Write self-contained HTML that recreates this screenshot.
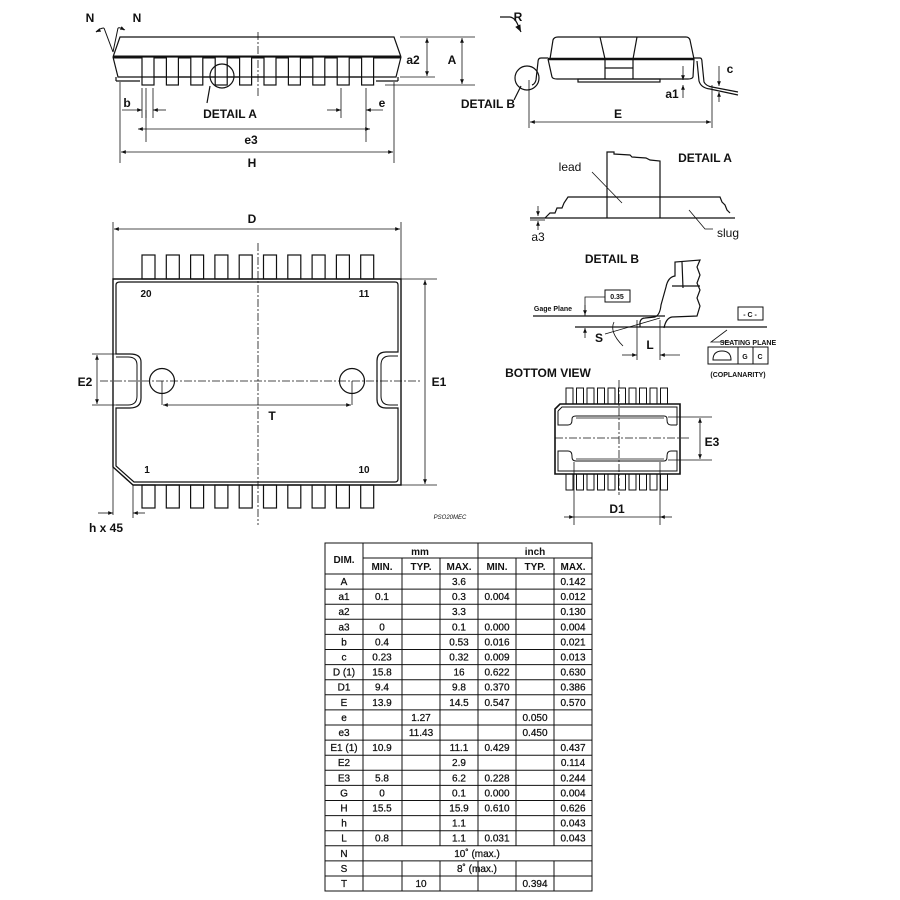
<!DOCTYPE html>
<html><head><meta charset="utf-8"><style>
html,body{margin:0;padding:0;background:#fff}
svg{display:block}
text{font-family:"Liberation Sans",Arial,sans-serif;fill:#111}
</style></head><body>
<svg width="900" height="900" viewBox="0 0 900 900" xmlns="http://www.w3.org/2000/svg">
<defs>
<marker id="a" viewBox="0 0 10 10" refX="10" refY="5" markerWidth="6" markerHeight="6" orient="auto-start-reverse"><path d="M0,1 L10,5 L0,9 z" fill="#111"/></marker>
</defs>
<g stroke="#111" fill="none" stroke-width="1.2">
<!-- ===== TOP-LEFT SIDE VIEW ===== -->
<path d="M113,57 L120,37 L394,37 L401,57"/>
<line x1="113" y1="57" x2="401" y2="57" stroke-width="3"/>
<path d="M113,57 L118,77 L396,77 L401,57"/>
<line x1="116" y1="77" x2="116" y2="81"/><line x1="116" y1="81" x2="140" y2="81"/>
<line x1="398" y1="77" x2="398" y2="81"/><line x1="376" y1="81" x2="398" y2="81"/>
<g fill="#fff">
<rect x="142" y="57" width="12" height="28"/><rect x="166.4" y="57" width="12" height="28"/><rect x="190.8" y="57" width="12" height="28"/><rect x="215.2" y="57" width="12" height="28"/><rect x="239.6" y="57" width="12" height="28"/><rect x="264" y="57" width="12" height="28"/><rect x="288.4" y="57" width="12" height="28"/><rect x="312.8" y="57" width="12" height="28"/><rect x="337.2" y="57" width="12" height="28"/><rect x="361.6" y="57" width="12" height="28"/>
</g>
<line x1="142" y1="77" x2="374" y2="77"/>
<circle cx="222" cy="76" r="12"/>
<line x1="210" y1="86" x2="207" y2="103"/>
<line x1="258" y1="32" x2="258" y2="98" stroke-dasharray="8,2,2,2" stroke-width="0.8"/>
<path d="M113,52 L104,28 M113,52 L118,28" stroke-width="1"/>
<path d="M96,32 Q100,28 104,28 M124,30 Q120,27 118,28" stroke-width="1"/>
<line x1="100" y1="30" x2="96" y2="32" marker-end="url(#a)" stroke-width="0.8"/>
<line x1="121" y1="28" x2="125" y2="30" marker-end="url(#a)" stroke-width="0.8"/>
<!-- a2, A -->
<line x1="400" y1="37" x2="475" y2="37" stroke-width="0.8"/>
<line x1="400" y1="77" x2="435" y2="77" stroke-width="0.8"/>
<line x1="385" y1="85" x2="475" y2="85" stroke-width="0.8"/>
<line x1="427" y1="38" x2="427" y2="76" marker-start="url(#a)" marker-end="url(#a)" stroke-width="0.8"/>
<line x1="462" y1="38" x2="462" y2="84" marker-start="url(#a)" marker-end="url(#a)" stroke-width="0.8"/>
<!-- b, e -->
<line x1="142" y1="88" x2="142" y2="118" stroke-width="0.8"/><line x1="146" y1="88" x2="146" y2="118" stroke-width="0.8"/><line x1="153" y1="88" x2="153" y2="118" stroke-width="0.8"/>
<line x1="122" y1="110" x2="142" y2="110" marker-end="url(#a)" stroke-width="0.8"/>
<line x1="166" y1="110" x2="153" y2="110" marker-end="url(#a)" stroke-width="0.8"/>
<line x1="341" y1="88" x2="341" y2="118" stroke-width="0.8"/><line x1="366" y1="88" x2="366" y2="142" stroke-width="0.8"/>
<line x1="327" y1="110" x2="341" y2="110" marker-end="url(#a)" stroke-width="0.8"/>
<line x1="383" y1="110" x2="366" y2="110" marker-end="url(#a)" stroke-width="0.8"/>
<line x1="146" y1="110" x2="146" y2="142" stroke-width="0.8"/>
<line x1="138" y1="129" x2="370" y2="129" marker-start="url(#a)" marker-end="url(#a)" stroke-width="0.8"/>
<line x1="120" y1="82" x2="120" y2="163" stroke-width="0.8"/><line x1="394" y1="82" x2="394" y2="163" stroke-width="0.8"/>
<line x1="121" y1="152" x2="393" y2="152" marker-start="url(#a)" marker-end="url(#a)" stroke-width="0.8"/>

<!-- ===== TOP-RIGHT SIDE VIEW ===== -->
<path d="M550,59 L553,40 Q554,37 558,37 L686,37 Q689,37 690,40 L694,59"/>
<line x1="548" y1="59" x2="694" y2="59" stroke-width="2.5"/>
<path d="M548,59 L552,77 Q553,79 557,79 L688,79 Q692,79 693,77 L694,59"/>
<path d="M600,37 L605,59 L605,79 M637,37 L633,59 L633,79 M605,68 L633,68"/>
<rect x="578" y="79" width="82" height="3"/>
<path d="M548,58 L541,58 Q538,58 538,62 L536,80 Q535,84 532,85"/>
<path d="M694,58 L700,58 Q702,58 702,62 L704,82 Q706,86 712,87 L738,92 M697,61 L699,81 Q701,88 710,89 L738,95"/>
<circle cx="527" cy="78" r="12"/>
<line x1="521" y1="86" x2="514" y2="100"/>
<path d="M500,17 L510,17 Q516,18 519,28" /><line x1="519" y1="28" x2="521" y2="32" marker-end="url(#a)"/>
<line x1="529" y1="80" x2="529" y2="128" stroke-width="0.8"/><line x1="712" y1="85" x2="712" y2="128" stroke-width="0.8"/>
<line x1="530" y1="122" x2="711" y2="122" marker-start="url(#a)" marker-end="url(#a)" stroke-width="0.8"/>
<line x1="683" y1="66" x2="683" y2="80" marker-end="url(#a)" stroke-width="0.8"/>
<line x1="683" y1="98" x2="683" y2="85" marker-end="url(#a)" stroke-width="0.8"/>
<line x1="719" y1="66" x2="719" y2="86" marker-end="url(#a)" stroke-width="0.8"/>
<line x1="719" y1="102" x2="719" y2="92" marker-end="url(#a)" stroke-width="0.8"/>

<!-- ===== DETAIL A ===== -->
<path d="M607,218 L607,152 L614,152 L614,154 L630,155 L632,157 L646,158 L650,160 L660,161 L660,218"/>
<path d="M545,218 L550,213 L555,213 L557,208 L562,208 L564,203 L568,197 L720,197 L722,202 L725,205 L727,210 L730,213"/>
<line x1="530" y1="218" x2="735" y2="218"/>
<line x1="530" y1="220" x2="545" y2="220" stroke-width="0.8"/>
<line x1="538" y1="206" x2="538" y2="216" marker-end="url(#a)" stroke-width="0.8"/>
<line x1="538" y1="230" x2="538" y2="221" marker-end="url(#a)" stroke-width="0.8"/>
<line x1="592" y1="172" x2="622" y2="203" stroke-width="0.8"/>
<path d="M689,210 L705,229 L713,229" stroke-width="0.8"/>

<!-- ===== DETAIL B ===== -->
<path d="M640,327 L640,322 Q641,318 645,318 L655,317 Q660,315 661,305 L666,287 Q668,277 675,276 L675,262 L700,260 L697,267 L700,275 L697,283 L700,290 L697,298 L700,306 L697,316 L672,317 Q666,318 664,328"/>
<path d="M682,262 L683,288 M672,286 L700,286"/>
<line x1="533" y1="316" x2="665" y2="316"/>
<line x1="575" y1="327" x2="767" y2="327"/>
<path d="M585,316 L585,297 L605,297" stroke-width="0.8"/>
<rect x="605" y="290" width="25" height="12" stroke-width="1"/>
<line x1="585" y1="305" x2="585" y2="315" marker-end="url(#a)" stroke-width="0.8"/>
<line x1="585" y1="338" x2="585" y2="328" marker-end="url(#a)" stroke-width="0.8"/>
<line x1="660" y1="318" x2="605" y2="334" stroke-width="0.8"/>
<path d="M614,322 Q609,332 623,346" stroke-width="0.8"/>
<line x1="637" y1="320" x2="637" y2="360" stroke-width="0.8"/><line x1="660" y1="320" x2="660" y2="360" stroke-width="0.8"/>
<line x1="622" y1="355" x2="637" y2="355" marker-end="url(#a)" stroke-width="0.8"/>
<line x1="680" y1="355" x2="660" y2="355" marker-end="url(#a)" stroke-width="0.8"/>
<rect x="738" y="307" width="25" height="13" stroke-width="1"/>
<path d="M730,342 L711,342 L727,330" stroke-width="0.8"/>
<rect x="708" y="347" width="60" height="17" stroke-width="1"/>
<line x1="738" y1="347" x2="738" y2="364" stroke-width="1"/><line x1="753" y1="347" x2="753" y2="364" stroke-width="1"/>
<path d="M713,360 Q713,351 722,351 Q731,351 731,360 Z" stroke-width="1"/>

<!-- ===== BOTTOM VIEW ===== -->
<g fill="#fff" stroke-width="1">
<rect x="566" y="388" width="7" height="18"/><rect x="576.5" y="388" width="7" height="18"/><rect x="587" y="388" width="7" height="18"/><rect x="597.5" y="388" width="7" height="18"/><rect x="608" y="388" width="7" height="18"/><rect x="618.5" y="388" width="7" height="18"/><rect x="629" y="388" width="7" height="18"/><rect x="639.5" y="388" width="7" height="18"/><rect x="650" y="388" width="7" height="18"/><rect x="660.5" y="388" width="7" height="18"/>
<rect x="566" y="472" width="7" height="18"/><rect x="576.5" y="472" width="7" height="18"/><rect x="587" y="472" width="7" height="18"/><rect x="597.5" y="472" width="7" height="18"/><rect x="608" y="472" width="7" height="18"/><rect x="618.5" y="472" width="7" height="18"/><rect x="629" y="472" width="7" height="18"/><rect x="639.5" y="472" width="7" height="18"/><rect x="650" y="472" width="7" height="18"/><rect x="660.5" y="472" width="7" height="18"/>
</g>
<path d="M560,404 L680,404 L680,474 L555,474 L555,409 Z" fill="#fff" stroke-width="1.6"/>
<path d="M558,411 L558,425 L568,425 Q572,425 572,420 L572,419 Q572,416 576,416 L664,416 Q667,416 667,419 L667,420 Q667,425 671,425 L677,425 M558,411 L562,407 L677,407 L677,425" stroke-width="1"/>
<path d="M558,451 L568,451 Q572,451 572,456 L572,457 Q572,461 576,461 L664,461 Q667,461 667,457 L667,456 Q667,451 671,451 L677,451 L677,471 L558,471 Z" stroke-width="1"/>
<line x1="576" y1="418" x2="664" y2="418" stroke-width="0.8"/><line x1="576" y1="459" x2="664" y2="459" stroke-width="0.8"/>
<line x1="555" y1="438" x2="690" y2="438" stroke-dasharray="8,2,2,2" stroke-width="0.8"/>
<line x1="619" y1="380" x2="619" y2="495" stroke-dasharray="8,2,2,2" stroke-width="0.8"/>
<line x1="668" y1="417" x2="712" y2="417" stroke-width="0.8"/><line x1="668" y1="460" x2="712" y2="460" stroke-width="0.8"/>
<line x1="700" y1="418" x2="700" y2="459" marker-start="url(#a)" marker-end="url(#a)" stroke-width="0.8"/>
<line x1="574" y1="462" x2="574" y2="525" stroke-width="0.8"/><line x1="660" y1="462" x2="660" y2="525" stroke-width="0.8"/>
<line x1="564" y1="517" x2="574" y2="517" marker-end="url(#a)" stroke-width="0.8"/>
<line x1="672" y1="517" x2="660" y2="517" marker-end="url(#a)" stroke-width="0.8"/>
<line x1="574" y1="517" x2="660" y2="517" stroke-width="0.8"/>

<!-- ===== TOP VIEW ===== -->
<g stroke-width="1.2">
<rect x="142" y="255" width="13" height="24"/><rect x="166.3" y="255" width="13" height="24"/><rect x="190.6" y="255" width="13" height="24"/><rect x="214.9" y="255" width="13" height="24"/><rect x="239.2" y="255" width="13" height="24"/><rect x="263.5" y="255" width="13" height="24"/><rect x="287.8" y="255" width="13" height="24"/><rect x="312.1" y="255" width="13" height="24"/><rect x="336.4" y="255" width="13" height="24"/><rect x="360.7" y="255" width="13" height="24"/>
<rect x="142" y="485" width="13" height="23"/><rect x="166.3" y="485" width="13" height="23"/><rect x="190.6" y="485" width="13" height="23"/><rect x="214.9" y="485" width="13" height="23"/><rect x="239.2" y="485" width="13" height="23"/><rect x="263.5" y="485" width="13" height="23"/><rect x="287.8" y="485" width="13" height="23"/><rect x="312.1" y="485" width="13" height="23"/><rect x="336.4" y="485" width="13" height="23"/><rect x="360.7" y="485" width="13" height="23"/>
</g>
<path d="M113,279 L401,279 L401,485 L133,485 L113,467 Z" stroke-width="1.4"/>
<path d="M120,282 L395,282 Q398,282 398,285 L398,352 L386,352 Q377,352 377,361 L377,399 Q377,408 386,408 L398,408 L398,479 Q398,482 395,482 L134,482 L116,466 L116,408 L130,408 Q141,408 141,398 L141,362 Q141,354 130,354 L116,354 L116,285 Q116,282 120,282 Z" stroke-width="1.2"/>
<path d="M398,356 L390,356 Q381,356 381,365 L381,396 Q381,405 390,405 L398,405" stroke-width="1"/>
<path d="M116,357 L128,357 Q137,357 137,365 L137,396 Q137,405 128,405 L116,405" stroke-width="1"/>
<circle cx="162" cy="381" r="12.5"/><circle cx="352" cy="381" r="12.5"/>
<line x1="100" y1="381" x2="420" y2="381" stroke-dasharray="8,2,2,2" stroke-width="0.8"/>
<line x1="258" y1="243" x2="258" y2="525" stroke-dasharray="8,2,2,2" stroke-width="0.8"/>
<line x1="113" y1="222" x2="113" y2="515" stroke-width="0.8"/><line x1="401" y1="222" x2="401" y2="285" stroke-width="0.8"/>
<line x1="114" y1="229" x2="400" y2="229" marker-start="url(#a)" marker-end="url(#a)" stroke-width="0.8"/>
<line x1="401" y1="279" x2="437" y2="279" stroke-width="0.8"/><line x1="401" y1="485" x2="437" y2="485" stroke-width="0.8"/>
<line x1="425" y1="280" x2="425" y2="484" marker-start="url(#a)" marker-end="url(#a)" stroke-width="0.8"/>
<line x1="92" y1="354" x2="116" y2="354" stroke-width="0.8"/><line x1="92" y1="405" x2="116" y2="405" stroke-width="0.8"/>
<line x1="97" y1="355" x2="97" y2="404" marker-start="url(#a)" marker-end="url(#a)" stroke-width="0.8"/>
<line x1="162" y1="381" x2="162" y2="405" stroke-width="0.8"/><line x1="352" y1="381" x2="352" y2="405" stroke-width="0.8"/>
<line x1="163" y1="405" x2="351" y2="405" marker-start="url(#a)" marker-end="url(#a)" stroke-width="0.8"/>
<line x1="133" y1="485" x2="133" y2="518" stroke-width="0.8"/>
<line x1="98" y1="513" x2="113" y2="513" marker-end="url(#a)" stroke-width="0.8"/>
<line x1="145" y1="513" x2="133" y2="513" marker-end="url(#a)" stroke-width="0.8"/>

<!-- ===== TABLE ===== -->
<g stroke-width="1">
<rect x="325" y="543" width="267" height="348"/>
<line x1="363" y1="558" x2="592" y2="558"/>
<line x1="363" y1="543" x2="363" y2="891"/>
<line x1="478" y1="543" x2="478" y2="846"/><line x1="478" y1="861" x2="478" y2="891"/>
<line x1="402" y1="558" x2="402" y2="846"/><line x1="440" y1="558" x2="440" y2="846"/><line x1="516" y1="558" x2="516" y2="846"/><line x1="554" y1="558" x2="554" y2="846"/>
<line x1="402" y1="861" x2="402" y2="891"/><line x1="440" y1="861" x2="440" y2="891"/><line x1="516" y1="861" x2="516" y2="891"/><line x1="554" y1="861" x2="554" y2="891"/>
<line x1="325" y1="574" x2="592" y2="574"/><line x1="325" y1="589.1" x2="592" y2="589.1"/><line x1="325" y1="604.2" x2="592" y2="604.2"/><line x1="325" y1="619.3" x2="592" y2="619.3"/><line x1="325" y1="634.4" x2="592" y2="634.4"/><line x1="325" y1="649.5" x2="592" y2="649.5"/><line x1="325" y1="664.6" x2="592" y2="664.6"/><line x1="325" y1="679.7" x2="592" y2="679.7"/><line x1="325" y1="694.8" x2="592" y2="694.8"/><line x1="325" y1="709.9" x2="592" y2="709.9"/><line x1="325" y1="725" x2="592" y2="725"/><line x1="325" y1="740.1" x2="592" y2="740.1"/><line x1="325" y1="755.2" x2="592" y2="755.2"/><line x1="325" y1="770.3" x2="592" y2="770.3"/><line x1="325" y1="785.4" x2="592" y2="785.4"/><line x1="325" y1="800.5" x2="592" y2="800.5"/><line x1="325" y1="815.6" x2="592" y2="815.6"/><line x1="325" y1="830.7" x2="592" y2="830.7"/><line x1="325" y1="845.8" x2="592" y2="845.8"/><line x1="325" y1="860.9" x2="592" y2="860.9"/><line x1="325" y1="876" x2="592" y2="876"/>
</g>
</g>

<!-- ===== LABELS ===== -->
<g font-size="12" font-weight="bold" text-anchor="middle">
<text x="90" y="22">N</text><text x="137" y="22">N</text>
<text x="413" y="64">a2</text><text x="452" y="64">A</text>
<text x="127" y="107">b</text><text x="382" y="107">e</text>
<text x="230" y="118">DETAIL A</text>
<text x="251" y="144">e3</text><text x="252" y="167">H</text>
<text x="518" y="21">R</text>
<text x="488" y="108">DETAIL B</text>
<text x="672" y="98">a1</text><text x="730" y="73">c</text>
<text x="618" y="118">E</text>
<text x="570" y="171" font-weight="normal">lead</text>
<text x="705" y="162">DETAIL A</text>
<text x="728" y="237" font-weight="normal">slug</text>
<text x="538" y="241" font-weight="normal">a3</text>
<text x="612" y="263">DETAIL B</text>
<text x="599" y="342">S</text><text x="650" y="349">L</text>
<text x="548" y="377">BOTTOM VIEW</text>
<text x="712" y="446">E3</text><text x="617" y="513">D1</text>
<text x="252" y="223">D</text>
<text x="439" y="386">E1</text><text x="85" y="386">E2</text>
<text x="272" y="420">T</text>
<text x="106" y="532">h x 45</text>
</g>
<g font-size="7" font-weight="bold" text-anchor="middle">
<text x="553" y="311">Gage Plane</text>
<text x="617" y="299">0.35</text>
<text x="750" y="317">- C -</text>
<text x="748" y="345">SEATING PLANE</text>
<text x="745" y="359">G</text><text x="760" y="359">C</text>
<text x="738" y="377">(COPLANARITY)</text>
</g>
<g font-size="10" text-anchor="middle">
<text x="146" y="297" font-weight="bold">20</text><text x="364" y="297" font-weight="bold">11</text>
<text x="147" y="473" font-weight="bold">1</text><text x="364" y="473" font-weight="bold">10</text>
</g>
<text x="450" y="519" font-size="6" font-style="italic" text-anchor="middle">PSO20MEC</text>

<g font-size="10" text-anchor="middle" stroke="#111" stroke-width="0.25">
<g font-weight="bold" stroke="none">
<text x="344" y="563">DIM.</text><text x="420" y="555">mm</text><text x="535" y="555">inch</text>
<text x="382" y="570">MIN.</text><text x="421" y="570">TYP.</text><text x="459" y="570">MAX.</text><text x="497" y="570">MIN.</text><text x="535" y="570">TYP.</text><text x="573" y="570">MAX.</text>
</g>
<text x="344" y="585">A</text><text x="459" y="585">3.6</text><text x="573" y="585">0.142</text>
<text x="344" y="600.1">a1</text><text x="382" y="600.1">0.1</text><text x="459" y="600.1">0.3</text><text x="497" y="600.1">0.004</text><text x="573" y="600.1">0.012</text>
<text x="344" y="615.2">a2</text><text x="459" y="615.2">3.3</text><text x="573" y="615.2">0.130</text>
<text x="344" y="630.3">a3</text><text x="382" y="630.3">0</text><text x="459" y="630.3">0.1</text><text x="497" y="630.3">0.000</text><text x="573" y="630.3">0.004</text>
<text x="344" y="645.4">b</text><text x="382" y="645.4">0.4</text><text x="459" y="645.4">0.53</text><text x="497" y="645.4">0.016</text><text x="573" y="645.4">0.021</text>
<text x="344" y="660.5">c</text><text x="382" y="660.5">0.23</text><text x="459" y="660.5">0.32</text><text x="497" y="660.5">0.009</text><text x="573" y="660.5">0.013</text>
<text x="344" y="675.6">D (1)</text><text x="382" y="675.6">15.8</text><text x="459" y="675.6">16</text><text x="497" y="675.6">0.622</text><text x="573" y="675.6">0.630</text>
<text x="344" y="690.7">D1</text><text x="382" y="690.7">9.4</text><text x="459" y="690.7">9.8</text><text x="497" y="690.7">0.370</text><text x="573" y="690.7">0.386</text>
<text x="344" y="705.8">E</text><text x="382" y="705.8">13.9</text><text x="459" y="705.8">14.5</text><text x="497" y="705.8">0.547</text><text x="573" y="705.8">0.570</text>
<text x="344" y="720.9">e</text><text x="421" y="720.9">1.27</text><text x="535" y="720.9">0.050</text>
<text x="344" y="736">e3</text><text x="421" y="736">11.43</text><text x="535" y="736">0.450</text>
<text x="344" y="751.1">E1 (1)</text><text x="382" y="751.1">10.9</text><text x="459" y="751.1">11.1</text><text x="497" y="751.1">0.429</text><text x="573" y="751.1">0.437</text>
<text x="344" y="766.2">E2</text><text x="459" y="766.2">2.9</text><text x="573" y="766.2">0.114</text>
<text x="344" y="781.3">E3</text><text x="382" y="781.3">5.8</text><text x="459" y="781.3">6.2</text><text x="497" y="781.3">0.228</text><text x="573" y="781.3">0.244</text>
<text x="344" y="796.4">G</text><text x="382" y="796.4">0</text><text x="459" y="796.4">0.1</text><text x="497" y="796.4">0.000</text><text x="573" y="796.4">0.004</text>
<text x="344" y="811.5">H</text><text x="382" y="811.5">15.5</text><text x="459" y="811.5">15.9</text><text x="497" y="811.5">0.610</text><text x="573" y="811.5">0.626</text>
<text x="344" y="826.6">h</text><text x="459" y="826.6">1.1</text><text x="573" y="826.6">0.043</text>
<text x="344" y="841.7">L</text><text x="382" y="841.7">0.8</text><text x="459" y="841.7">1.1</text><text x="497" y="841.7">0.031</text><text x="573" y="841.7">0.043</text>
<text x="344" y="856.8">N</text><text x="477" y="856.8">10˚ (max.)</text>
<text x="344" y="871.9">S</text><text x="477" y="871.9">8˚ (max.)</text>
<text x="344" y="887">T</text><text x="421" y="887">10</text><text x="535" y="887">0.394</text>
</g>
</svg>
</body></html>
